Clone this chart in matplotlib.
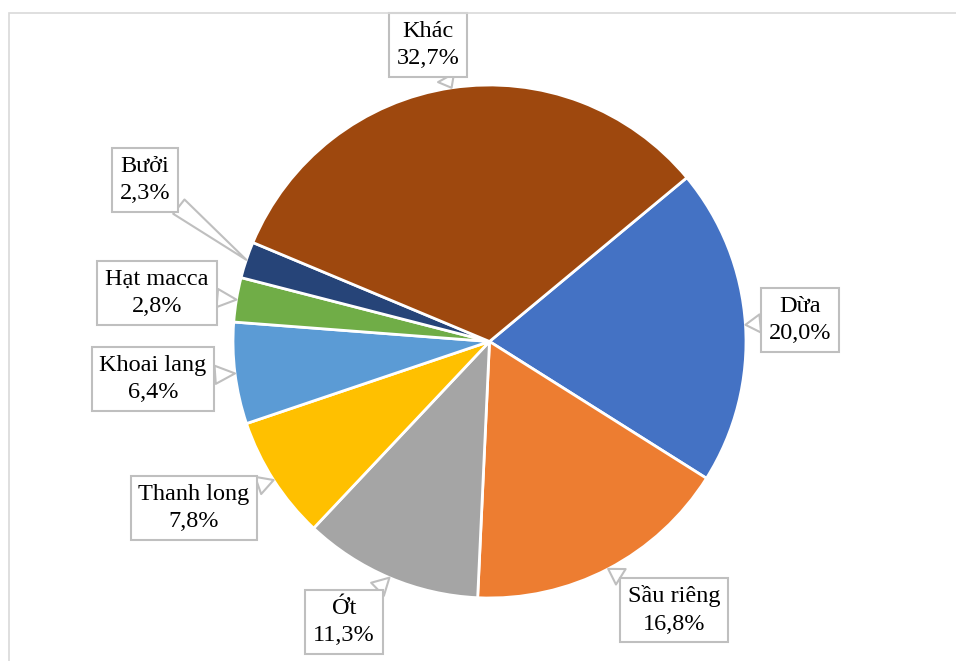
import numpy as np
import matplotlib.pyplot as plt
from matplotlib.patches import Rectangle

plt.rcParams['font.family'] = ['Liberation Serif', 'DejaVu Serif']

# Data (clockwise order, starting from the right)
labels = ['Dừa', 'Sầu riêng', 'Ớt', 'Thanh long', 'Khoai lang', 'Hạt macca', 'Bưởi', 'Khác']
shares = [20.0, 16.8, 11.3, 7.8, 6.4, 2.8, 2.3, 32.7]
colors = ['#4472C4', '#ED7D31', '#A5A5A5', '#FFC000', '#5B9BD5', '#70AD47', '#264478', '#9E480E']

# Callout box centres in pixels (from top-left)
box_pos = [(800, 320), (674, 610), (344, 622), (194, 508),
           (153, 379), (157, 293), (145, 180), (428, 45)]

W, H = 956, 661
fig = plt.figure(figsize=(W / 100, H / 100), dpi=100)
ax = fig.add_axes([0, 0, 1, 1])

# chart frame
fig.patches.append(Rectangle((9 / W, -0.1), 1.2, (H - 13) / H + 0.1, transform=fig.transFigure,
                             fill=False, edgecolor='#D9D9D9', linewidth=1.2))

cx, cy, r = 489.5, H - 341.5, 256.5
wedges, _ = ax.pie(shares, colors=colors, startangle=39.7, counterclock=False,
                   center=(cx, cy), radius=r, frame=True,
                   wedgeprops=dict(edgecolor='white', linewidth=2))
ax.set_xlim(0, W)
ax.set_ylim(0, H)
ax.set_aspect('equal')
ax.axis('off')

for w, lab, val, (bx, by) in zip(wedges, labels, shares, box_pos):
    mid = np.deg2rad((w.theta1 + w.theta2) / 2)
    tip = (cx + r * np.cos(mid), cy + r * np.sin(mid))
    txt = f"{lab}\n{val:.1f}%".replace('.', ',')
    ax.annotate(txt, xy=tip, xytext=(bx, H - by), ha='center', va='center',
                fontsize=17.5, multialignment='center', color='black', linespacing=1.4,
                bbox=dict(boxstyle='square,pad=0.32', fc='white', ec='#BFBFBF', lw=1.5),
                arrowprops=dict(arrowstyle='wedge,tail_width=0.75', fc='white',
                                ec='#BFBFBF', lw=1.5, shrinkA=0, shrinkB=0))

fig.savefig('out.png', dpi=100)
